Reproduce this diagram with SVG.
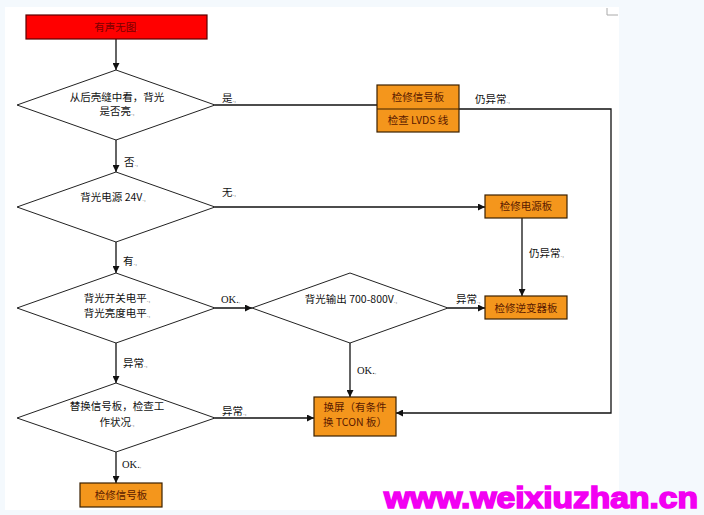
<svg xmlns="http://www.w3.org/2000/svg" width="704" height="515" viewBox="0 0 704 515">
<defs>
<marker id="ah" viewBox="0 0 10 10" refX="10" refY="5" markerWidth="7" markerHeight="7" markerUnits="userSpaceOnUse" orient="auto">
<path d="M0,0 L10,5 L0,10 z" fill="#111"/>
</marker>
</defs>
<style>
.t{font-family:"Noto Sans CJK SC","Liberation Serif",serif;font-size:10.5px;fill:#111;}
.c{text-anchor:middle;}
.bx{font-family:"Noto Sans CJK SC","Liberation Serif",serif;font-size:10.5px;fill:#5a1a00;text-anchor:middle;}
.pm{font-size:6px;fill:#888;}
.dia{fill:#fff;stroke:#222;stroke-width:1;}
.ob{fill:#f4961c;stroke:#3a2000;stroke-width:1.2;}
.ln{fill:none;stroke:#111;stroke-width:1.3;}
.ar{marker-end:url(#ah);}
</style>
<rect x="0" y="0" width="704" height="515" fill="#f4f9fd"/>
<rect x="5" y="7" width="614" height="503" fill="#fff"/>
<path d="M607,8 V15 H618" fill="none" stroke="#aaa" stroke-width="1"/>

<g id="connectors">
<path class="ln ar" d="M116,39 V70"/>
<path class="ln" d="M215,105 H377"/>
<path class="ln ar" d="M459,109 H611 V413 H396"/>
<path class="ln ar" d="M116,140 V172"/>
<path class="ln ar" d="M215,207 H485"/>
<path class="ln ar" d="M522,218 V296"/>
<path class="ln ar" d="M116,242 V273"/>
<path class="ln ar" d="M215,308 H252"/>
<path class="ln ar" d="M448,308 H485"/>
<path class="ln ar" d="M350,343 V397"/>
<path class="ln ar" d="M116,343 V383"/>
<path class="ln ar" d="M215,418 H314"/>
<path class="ln ar" d="M116,452 V483"/>
<text class="t" x="222" y="102">是<tspan class="pm">.,</tspan></text>
<text class="t" x="475" y="103">仍异常<tspan class="pm">.,</tspan></text>
<text class="t" x="124" y="166">否<tspan class="pm">.,</tspan></text>
<text class="t" x="222" y="196">无<tspan class="pm">.,</tspan></text>
<text class="t" x="529" y="257">仍异常<tspan class="pm">.,</tspan></text>
<text class="t" x="123" y="265">有<tspan class="pm">.,</tspan></text>
<text class="t" x="221" y="303" style="font-family:'Liberation Serif',serif">OK.<tspan class="pm">,</tspan></text>
<text class="t" x="456" y="303">异常<tspan class="pm">.,</tspan></text>
<text class="t" x="123" y="367">异常<tspan class="pm">.,</tspan></text>
<text class="t" x="357" y="374" style="font-family:'Liberation Serif',serif">OK.<tspan class="pm">,</tspan></text>
<text class="t" x="222" y="415">异常<tspan class="pm">.,</tspan></text>
<text class="t" x="122" y="468" style="font-family:'Liberation Serif',serif">OK.<tspan class="pm">,</tspan></text>
</g>

<g id="start">
<rect x="26" y="15" width="181" height="24" fill="#ff0000" stroke="#5a0000" stroke-width="1.2"/>
<text class="bx" x="116" y="31" style="fill:#7a0000">有声无图<tspan class="pm">.</tspan></text>
</g>

<g id="d1">
<polygon class="dia" points="116,70 215,105 116,140 17,105"/>
<text class="t c" x="117" y="101">从后壳缝中看，背光</text>
<text class="t c" x="117" y="115">是否亮<tspan class="pm">.,</tspan></text>
</g>

<g id="b1">
<rect class="ob" x="377" y="85" width="82" height="47"/>
<line x1="377" y1="109" x2="459" y2="109" stroke="#3a2000" stroke-width="1.2"/>
<text class="bx" x="418" y="101">检修信号板</text>
<text class="bx" x="418" y="124">检查 LVDS 线</text>
</g>

<g id="d2">
<polygon class="dia" points="116,172 215,207 116,242 17,207"/>
<text class="t c" x="113" y="201">背光电源 24V<tspan class="pm">.,</tspan></text>
</g>

<g id="b2">
<rect class="ob" x="485" y="195" width="82" height="23"/>
<text class="bx" x="526" y="210">检修电源板</text>
</g>

<g id="d3">
<polygon class="dia" points="116,273 215,308 116,343 17,308"/>
<text class="t c" x="117" y="302">背光开关电平<tspan class="pm">.,</tspan></text>
<text class="t c" x="117" y="317">背光亮度电平<tspan class="pm">.,</tspan></text>
</g>

<g id="d4">
<polygon class="dia" points="350,273 448,308 350,343 252,308"/>
<text class="t c" x="351" y="303">背光输出 700-800V<tspan class="pm">.,</tspan></text>
</g>

<g id="b3">
<rect class="ob" x="485" y="296" width="82" height="23"/>
<text class="bx" x="526" y="312">检修逆变器板</text>
</g>

<g id="b4">
<rect class="ob" x="314" y="397" width="82" height="39"/>
<text class="bx" x="355" y="411">换屏（有条件</text>
<text class="bx" x="355" y="426">换 TCON 板）</text>
</g>

<g id="d5">
<polygon class="dia" points="116,383 215,418 116,452 17,418"/>
<text class="t c" x="117" y="410">替换信号板，检查工</text>
<text class="t c" x="117" y="426">作状况<tspan class="pm">.,</tspan></text>
</g>

<g id="b5">
<rect class="ob" x="80" y="483" width="82" height="24"/>
<text class="bx" x="121" y="499">检修信号板</text>
</g>

<text x="384" y="508" textLength="314" lengthAdjust="spacingAndGlyphs" style="font-family:'Liberation Sans',sans-serif;font-weight:bold;font-size:29px;fill:#f200f2;stroke:#f200f2;stroke-width:1.6">www.weixiuzhan.cn</text>
</svg>
